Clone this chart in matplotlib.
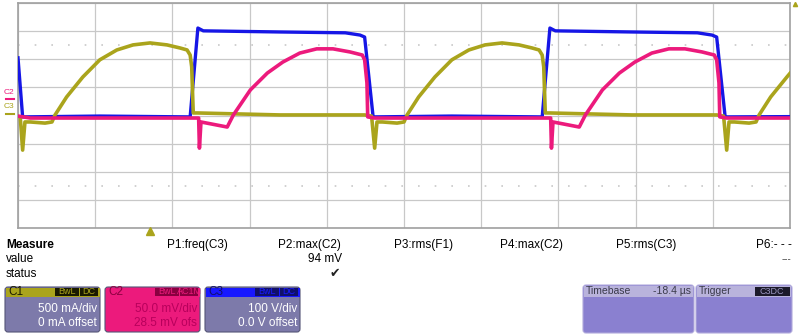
import matplotlib.pyplot as plt
from matplotlib.patches import FancyBboxPatch, Rectangle

plt.rcParams['font.family'] = ['Liberation Sans', 'DejaVu Sans']

# scope traces, time and amplitude both in screen divisions (10 x 8)
# C1 - current probe (olive)
c1_t = [0.03, 0.06, 0.09, 0.16, 0.35, 0.44, 0.48, 0.63, 0.84, 1.06, 1.28, 1.49, 1.71, 1.93,
        2.10, 2.19, 2.23, 2.25, 2.27, 2.33, 3.39, 4.49, 4.58,
        4.62, 4.65, 4.72, 4.91, 5.00, 5.04, 5.19, 5.40, 5.62, 5.84, 6.05, 6.27, 6.49,
        6.66, 6.75, 6.79, 6.81, 6.83, 6.89, 7.95, 9.05, 9.14,
        9.18, 9.21, 9.28, 9.47, 9.56, 9.60, 9.75, 9.96, 10.0]
c1_v = [-0.09, -1.23, -0.23, -0.23, -0.27, -0.23, 0.02, 0.66, 1.37, 1.98, 2.33, 2.51, 2.58, 2.51,
        2.40, 2.33, 2.15, 1.73, 0.09, 0.09, 0.02, 0.02, -0.02,
        -1.16, -0.23, -0.23, -0.27, -0.23, 0.02, 0.66, 1.37, 1.98, 2.33, 2.51, 2.58, 2.51,
        2.40, 2.33, 2.15, 1.73, 0.09, 0.09, 0.02, 0.02, -0.02,
        -1.23, -0.23, -0.23, -0.27, -0.23, 0.02, 0.66, 1.37, 1.50]

# C2 - shunt voltage (pink)
c2_t = [0.00, 0.16, 2.34, 2.35, 2.37, 2.71, 2.79, 3.01, 3.23, 3.43, 3.65, 3.87, 4.08, 4.30,
        4.46, 4.49, 4.52, 4.53, 4.62,
        6.90, 6.91, 6.93, 7.27, 7.35, 7.57, 7.79, 7.99, 8.21, 8.43, 8.64, 8.86,
        9.02, 9.05, 9.08, 9.09, 9.18, 10.0]
c2_v = [-0.02, -0.09, -0.09, -1.16, -0.23, -0.41, 0.02, 0.91, 1.51, 1.90, 2.22, 2.37, 2.37, 2.26,
        2.15, 1.98, 1.16, -0.05, -0.09,
        -0.09, -1.16, -0.23, -0.41, 0.02, 0.91, 1.51, 1.90, 2.22, 2.37, 2.37, 2.26,
        2.15, 1.98, 1.16, -0.05, -0.09, -0.09]

# C3 - switch node voltage (blue)
c3_t = [0.00, 0.06, 1.06, 2.23, 2.33, 2.40, 3.39, 4.24, 4.43, 4.49, 4.60,
        5.62, 6.79, 6.89, 6.96, 7.95, 8.80, 8.99, 9.05, 9.16, 10.0]
c3_v = [2.05, -0.05, -0.02, -0.05, 3.11, 3.01, 2.97, 2.94, 2.86, 2.79, -0.05,
        -0.02, -0.05, 3.11, 3.01, 2.97, 2.94, 2.86, 2.79, -0.05, -0.04]

olive = '#aaa41c'
pink = '#ec1a7c'
blue = '#1616e6'
panel = '#7d7aaa'

fig = plt.figure(figsize=(8, 3.34), dpi=100)

# graticule area
ax = fig.add_axes([18 / 800, 1 - 228 / 334, 772 / 800, 225 / 334])
ax.set_xlim(0, 10)
ax.set_ylim(-4, 4)
ax.set_xticks(range(11))
ax.set_yticks(range(-4, 5))
ax.tick_params(length=0, labelbottom=False, labelleft=False)
ax.grid(True, color='#c8c8c8', lw=0.9)
for s in ax.spines.values():
    s.set_color('#a0a0a0')
    s.set_linewidth(1.2)
for yy in (2.5, -2.5):
    ax.axhline(yy, color='#c8c8c8', lw=1.2, ls=(0, (1, 9)))

ax.plot(c3_t, c3_v, color=blue, lw=2.4, zorder=3)
ax.plot(c1_t, c1_v, color=olive, lw=2.6, zorder=4)
ax.plot(c2_t, c2_v, color=pink, lw=2.6, zorder=5)

# overlay in pixel coordinates for the scope UI
ui = fig.add_axes([0, 0, 1, 1], zorder=10)
ui.set_xlim(0, 800)
ui.set_ylim(334, 0)
ui.axis('off')

# channel markers on the left
ui.text(9, 92, 'C2', color=pink, fontsize=6, ha='center', va='center')
ui.plot([6, 14], [99, 99], color=pink, lw=1.5)
ui.text(9, 107, 'C3', color=olive, fontsize=6, ha='center', va='center')
ui.plot([6, 14], [114, 114], color=olive, lw=1.5)
ui.plot([150], [231], marker='^', color=olive, ms=6)
ui.plot([795], [4], marker='^', color=olive, ms=3)

# measure table
ui.text(6, 245, 'Measure', fontsize=8.5, fontweight='bold', va='center')
ui.text(6, 259, 'value', fontsize=8.5, va='center')
ui.text(6, 274, 'status', fontsize=8.5, va='center')
params = ['P1:freq(C3)', 'P2:max(C2)', 'P3:rms(F1)', 'P4:max(C2)', 'P5:rms(C3)']
param_x = [167, 278, 394, 500, 616]
for lab, xx in zip(params, param_x):
    ui.text(xx, 245, lab, fontsize=8.5, va='center')
ui.text(792, 245, 'P6:- - -', fontsize=8.5, va='center', ha='right')
ui.text(342, 259, '94 mV', fontsize=8.5, va='center', ha='right')
ui.text(335, 274, '\u2714', fontsize=9, va='center', ha='center', family='DejaVu Sans', color='#222222')
ui.text(791, 259, '---', fontsize=7, va='center', ha='right', color='#444444')


def chan_box(x0, title, head, body, tcol, b1, b2, line1, line2, bodytxt):
    ui.add_patch(FancyBboxPatch((x0, 287), 95, 45, boxstyle='round,pad=0,rounding_size=3',
                                fc=body, ec='#555577', lw=0.8))
    ui.add_patch(Rectangle((x0 + 0.5, 287.5), 94, 9, fc=head, ec='none'))
    ui.text(x0 + 3, 292, title, fontsize=8.5, color=tcol, va='center')
    w1 = 24 if b1 == 'BwL' else 19
    ui.add_patch(Rectangle((x0 + 50, 288), w1, 8, fc=tcol, ec='none'))
    ui.text(x0 + 50 + w1 / 2, 292, b1, fontsize=6.5, color=head, ha='center', va='center')
    ui.add_patch(Rectangle((x0 + 51 + w1, 288), 93 - 51 - w1, 8, fc=tcol, ec='none'))
    ui.text(x0 + 51 + w1 + (93 - 51 - w1) / 2, 292, b2, fontsize=6.5, color=head,
            ha='center', va='center')
    ui.text(x0 + 92, 309, line1, fontsize=8.5, color=bodytxt, ha='right', va='center')
    ui.text(x0 + 92, 323, line2, fontsize=8.5, color=bodytxt, ha='right', va='center')


chan_box(5, 'C1', olive, panel, '#1a1a00', 'BwL', 'DC', '500 mA/div', '0 mA offset', 'white')
chan_box(105, 'C2', pink, pink, '#8a0040', 'BwL', 'AC1M', '50.0 mV/div', '28.5 mV ofs', '#b8005c')
chan_box(205, 'C3', '#1818ff', panel, '#10106a', 'BwL', 'DC', '100 V/div', '0.0 V offset', 'white')

# timebase / trigger panel
for x0, w in ((583, 111), (696, 96)):
    ui.add_patch(FancyBboxPatch((x0, 285), w, 48, boxstyle='round,pad=0,rounding_size=3',
                                fc='#8a80d0', ec='#b0aadc', lw=0.8))
    ui.add_patch(Rectangle((x0 + 1, 286), w - 2, 11, fc='#b9b3dc', ec='none'))
ui.text(586, 291.5, 'Timebase', fontsize=7.5, color='#3a3a4a', va='center')
ui.text(691, 291.5, '-18.4 \u00b5s', fontsize=7.5, color='#3a3a4a', va='center', ha='right')
ui.text(699, 291.5, 'Trigger', fontsize=7.5, color='#3a3a4a', va='center')
ui.add_patch(Rectangle((755, 287), 35, 9, fc='#1c1a2a', ec='none'))
ui.text(772, 291.5, 'C3DC', fontsize=6.5, color='#9a96c0', va='center', ha='center')

fig.savefig('out.png', dpi=100)
